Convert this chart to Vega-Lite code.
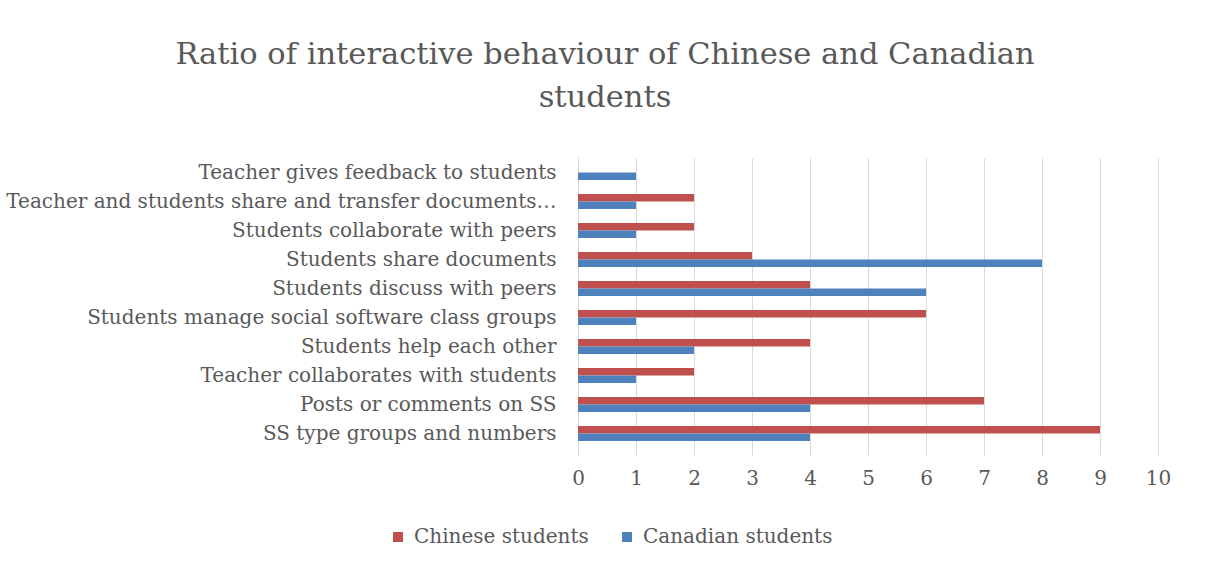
{
  "$schema": "https://vega.github.io/schema/vega-lite/v6.json",
  "width": 580,
  "height": 290,
  "autosize": {"type": "none"},
  "padding": {"left": 578, "top": 158, "right": 49, "bottom": 131},
  "background": "white",
  "title": {
    "text": ["Ratio of interactive behaviour of Chinese and Canadian", "students"],
    "fontSize": 30.5,
    "font": "DejaVu Serif",
    "fontWeight": "normal",
    "color": "#595959",
    "lineHeight": 43,
    "anchor": "middle",
    "frame": "group",
    "dx": -263,
    "offset": 45
  },
  "data": {
    "values": [
      {"behaviour": "Teacher gives feedback to students", "series": "Chinese students", "value": 0},
      {"behaviour": "Teacher gives feedback to students", "series": "Canadian students", "value": 1},
      {"behaviour": "Teacher and students share and transfer documents…", "series": "Chinese students", "value": 2},
      {"behaviour": "Teacher and students share and transfer documents…", "series": "Canadian students", "value": 1},
      {"behaviour": "Students collaborate with peers", "series": "Chinese students", "value": 2},
      {"behaviour": "Students collaborate with peers", "series": "Canadian students", "value": 1},
      {"behaviour": "Students share documents", "series": "Chinese students", "value": 3},
      {"behaviour": "Students share documents", "series": "Canadian students", "value": 8},
      {"behaviour": "Students discuss with peers", "series": "Chinese students", "value": 4},
      {"behaviour": "Students discuss with peers", "series": "Canadian students", "value": 6},
      {"behaviour": "Students manage social software class groups", "series": "Chinese students", "value": 6},
      {"behaviour": "Students manage social software class groups", "series": "Canadian students", "value": 1},
      {"behaviour": "Students help each other", "series": "Chinese students", "value": 4},
      {"behaviour": "Students help each other", "series": "Canadian students", "value": 2},
      {"behaviour": "Teacher collaborates with students", "series": "Chinese students", "value": 2},
      {"behaviour": "Teacher collaborates with students", "series": "Canadian students", "value": 1},
      {"behaviour": "Posts or comments on SS", "series": "Chinese students", "value": 7},
      {"behaviour": "Posts or comments on SS", "series": "Canadian students", "value": 4},
      {"behaviour": "SS type groups and numbers", "series": "Chinese students", "value": 9},
      {"behaviour": "SS type groups and numbers", "series": "Canadian students", "value": 4}
    ]
  },
  "mark": {"type": "bar"},
  "encoding": {
    "y": {
      "field": "behaviour",
      "type": "nominal",
      "sort": [
        "Teacher gives feedback to students",
        "Teacher and students share and transfer documents…",
        "Students collaborate with peers",
        "Students share documents",
        "Students discuss with peers",
        "Students manage social software class groups",
        "Students help each other",
        "Teacher collaborates with students",
        "Posts or comments on SS",
        "SS type groups and numbers"
      ],
      "scale": {"paddingInner": 0.48, "paddingOuter": 0.24},
      "axis": {
        "title": null,
        "labelFont": "DejaVu Serif",
        "labelFontSize": 20,
        "labelColor": "#595959",
        "ticks": false,
        "labelPadding": 22,
        "domainColor": "#D9D9D9",
        "labelLimit": 0,
        "grid": false
      }
    },
    "x": {
      "field": "value",
      "type": "quantitative",
      "scale": {"domain": [0, 10], "nice": false},
      "axis": {
        "title": null,
        "values": [0, 1, 2, 3, 4, 5, 6, 7, 8, 9, 10],
        "grid": true,
        "gridColor": "#D9D9D9",
        "domain": false,
        "tickColor": "#D9D9D9",
        "tickSize": 7,
        "labelFlush": false,
        "labelFont": "DejaVu Serif",
        "labelFontSize": 20,
        "labelColor": "#595959",
        "labelPadding": 13
      }
    },
    "yOffset": {"field": "series", "sort": ["Chinese students", "Canadian students"]},
    "color": {
      "field": "series",
      "scale": {"domain": ["Chinese students", "Canadian students"], "range": ["#C0504D", "#4F81BD"]},
      "legend": {
        "title": null,
        "orient": "none",
        "direction": "horizontal",
        "legendX": -190,
        "legendY": 369,
        "symbolType": "square",
        "symbolSize": 100,
        "symbolStrokeWidth": 0,
        "labelFont": "DejaVu Serif",
        "labelFontSize": 20,
        "labelColor": "#595959",
        "labelLimit": 0,
        "columnPadding": 28,
        "labelOffset": 6
      }
    }
  },
  "config": {"view": {"stroke": null}}
}
